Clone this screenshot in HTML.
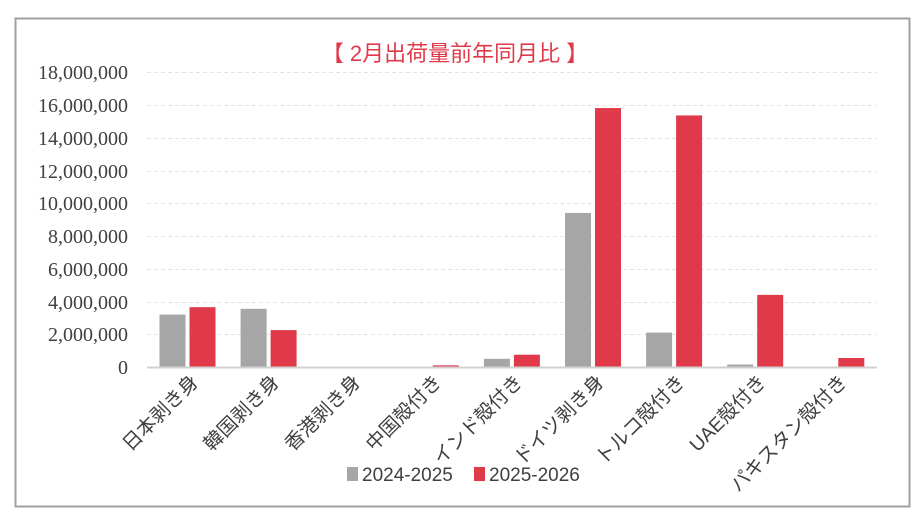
<!DOCTYPE html>
<html><head><meta charset="utf-8"><style>
body{margin:0;background:#fff;}
</style></head><body>
<svg width="918" height="522" xmlns="http://www.w3.org/2000/svg" style="display:block">
<rect x="15.5" y="18.5" width="894" height="488" fill="#fff" stroke="#a0a0a0" stroke-width="2"/>
<text x="455" y="61" text-anchor="middle" font-family="'Liberation Sans','Noto Sans CJK JP',sans-serif" font-size="22" fill="#e03a4a">【 2月出荷量前年同月比 】</text>
<g stroke="#e4e4e4" stroke-dasharray="4,3" stroke-width="1">
<line x1="147" x2="877" y1="72.5" y2="72.5"/><line x1="147" x2="877" y1="105.5" y2="105.5"/>
<line x1="147" x2="877" y1="138.5" y2="138.5"/><line x1="147" x2="877" y1="171.5" y2="171.5"/>
<line x1="147" x2="877" y1="203.5" y2="203.5"/><line x1="147" x2="877" y1="236.5" y2="236.5"/>
<line x1="147" x2="877" y1="269.5" y2="269.5"/><line x1="147" x2="877" y1="302.5" y2="302.5"/>
<line x1="147" x2="877" y1="334.5" y2="334.5"/>
</g>
<g font-family="'Liberation Serif',serif" font-size="20" fill="#404040" text-anchor="end">
<text x="128" y="79">18,000,000</text><text x="128" y="112">16,000,000</text>
<text x="128" y="145">14,000,000</text><text x="128" y="178">12,000,000</text>
<text x="128" y="210">10,000,000</text><text x="128" y="243">8,000,000</text>
<text x="128" y="276">6,000,000</text><text x="128" y="309">4,000,000</text>
<text x="128" y="341">2,000,000</text><text x="128" y="374">0</text>
</g>
<g id="bars"></g>
<line x1="147" x2="877" y1="367.5" y2="367.5" stroke="#d0d0d0" stroke-width="2"/>
<rect x="347" y="467" width="11" height="14" fill="#a6a6a6"/>
<text x="362" y="481" font-family="'Liberation Sans Narrow','Liberation Sans',sans-serif" font-size="19" fill="#404040">2024-2025</text>
<rect x="474" y="467" width="11" height="14" fill="#e03a4a"/>
<text x="489" y="481" font-family="'Liberation Sans Narrow','Liberation Sans',sans-serif" font-size="19" fill="#404040">2025-2026</text>
<g id="xl" font-family="'Liberation Sans Narrow','Liberation Sans','Noto Sans CJK JP',sans-serif" font-size="19.5" fill="#404040"></g>
</svg>
<script>
var g=[3.2,3.55,0,0,0.5,9.4,2.1,0.15,0],r=[3.65,2.25,0,0.1,0.75,15.8,15.35,4.4,0.55];
var n=["日本剥き身","韓国剥き身","香港剥き身","中国殻付き","インド殻付き","ドイツ剥き身","トルコ殻付き","UAE殻付き","パキスタン殻付き"];
var s="",t="",k=295/18;
for(var i=0;i<9;i++){var c=147+81.1*i+40.5;
var h=g[i]*k;if(h>0)s+='<rect x="'+(c-28)+'" y="'+(367-h)+'" width="26" height="'+h+'" fill="#a6a6a6"/>';
h=r[i]*k;if(h>0)s+='<rect x="'+(c+2)+'" y="'+(367-h)+'" width="26" height="'+h+'" fill="#e03a4a"/>';
t+='<text text-anchor="end" transform="translate('+(c+12)+',383) rotate(-45)">'+n[i]+'</text>';}
document.getElementById("bars").innerHTML=s;document.getElementById("xl").innerHTML=t;
</script>
</body></html>
